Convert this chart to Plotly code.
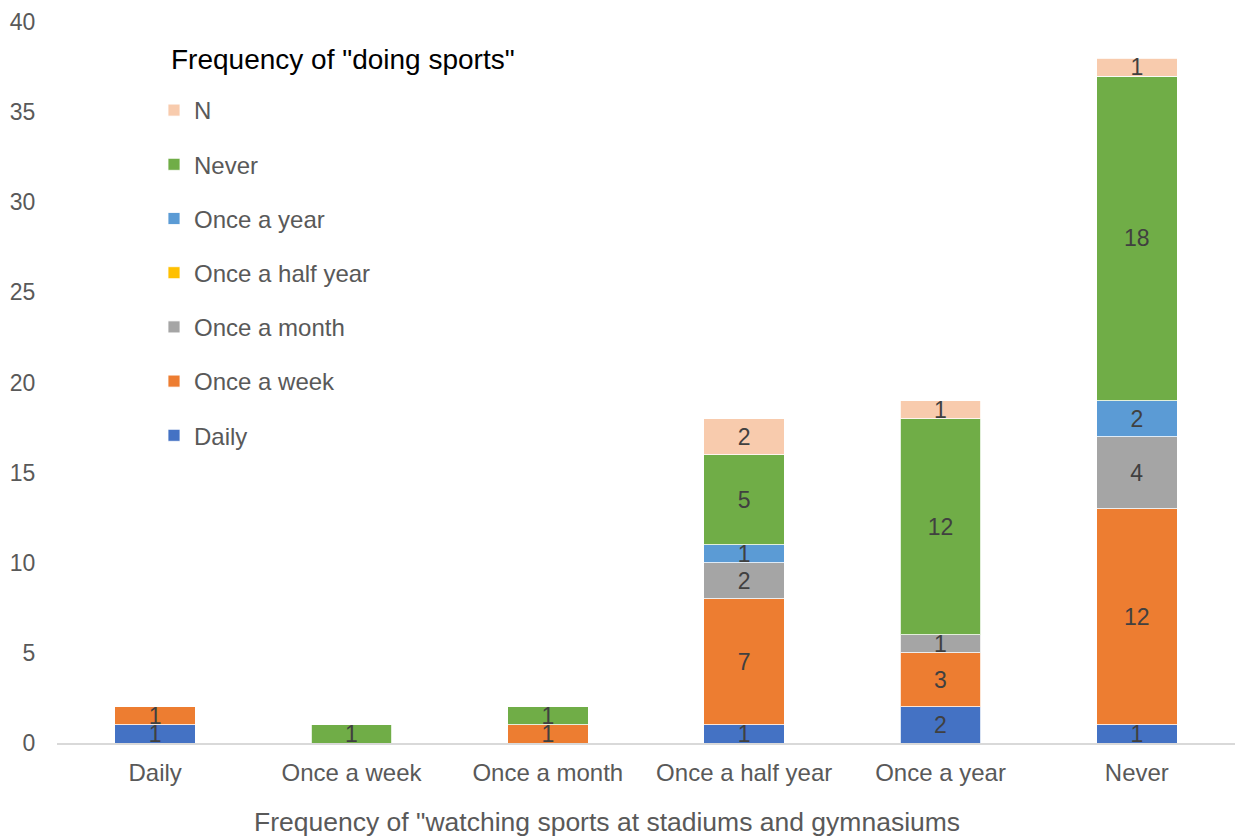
import plotly.graph_objects as go

# Categories on the x axis: how often respondents watch sports at venues
watching = ["Daily", "Once a week", "Once a month", "Once a half year", "Once a year", "Never"]

# Stacked series: how often respondents do sports (counts per watching category)
daily          = [1, 0, 0, 1, 2, 1]
once_week      = [1, 0, 1, 7, 3, 12]
once_month     = [0, 0, 0, 2, 1, 4]
once_half_year = [0, 0, 0, 0, 0, 0]
once_year      = [0, 0, 0, 1, 0, 2]
never          = [0, 1, 1, 5, 12, 18]
no_answer      = [0, 0, 0, 2, 1, 1]

series = [
    ("Daily", daily, "#4472C4"),
    ("Once a week", once_week, "#ED7D31"),
    ("Once a month", once_month, "#A5A5A5"),
    ("Once a half year", once_half_year, "#FFC000"),
    ("Once a year", once_year, "#5B9BD5"),
    ("Never", never, "#70AD47"),
    ("N", no_answer, "#F8CBAD"),
]

FONT = "Liberation Sans, Arial, sans-serif"
GREY_TEXT = "#595959"

PLOT_L, PLOT_R, PLOT_T, PLOT_B = 57, 1235, 22, 743
PW, PH = PLOT_R - PLOT_L, PLOT_B - PLOT_T

fig = go.Figure()
for i, (name, vals, color) in enumerate(series):
    fig.add_trace(go.Bar(
        x=watching,
        y=[v if v else None for v in vals],
        name=name,
        legendgroup=name,
        legendrank=len(series) - i,  # top of the stack listed first
        marker=dict(color=color, line=dict(color="rgba(255,255,255,0.8)", width=1)),
        text=[str(v) if v else "" for v in vals],
        textposition="inside",
        insidetextanchor="middle",
        textangle=0,
        textfont=dict(family=FONT, size=23, color="#404040"),
        hoverinfo="x+y+name",
    ))

fig.update_layout(
    barmode="stack",
    bargap=0.59,
    width=1235,
    height=838,
    margin=dict(l=PLOT_L, r=1235 - PLOT_R, t=PLOT_T, b=838 - PLOT_B),
    paper_bgcolor="white",
    plot_bgcolor="white",
    font=dict(family=FONT, size=23, color=GREY_TEXT),
    uniformtext=dict(minsize=23, mode="show"),
    showlegend=True,
    legend=dict(
        traceorder="grouped",
        tracegroupgap=20,
        x=(154 - PLOT_L) / PW,
        xanchor="left",
        y=1 - (88 - PLOT_T) / PH,
        yanchor="top",
        bgcolor="rgba(0,0,0,0)",
        font=dict(family=FONT, size=24, color=GREY_TEXT),
        itemclick=False,
    ),
    xaxis=dict(
        showgrid=False,
        showline=True,
        linecolor="#D9D9D9",
        linewidth=2,
        ticks="outside",
        ticklen=7,
        tickcolor="rgba(0,0,0,0)",
        tickfont=dict(family=FONT, size=24, color=GREY_TEXT),
    ),
    yaxis=dict(
        range=[0, 40],
        dtick=5,
        showgrid=False,
        zeroline=False,
        showline=False,
        ticks="outside",
        ticklen=16,
        tickcolor="rgba(0,0,0,0)",
        tickfont=dict(family=FONT, size=23, color=GREY_TEXT),
    ),
    annotations=[
        # legend heading
        dict(
            text='Frequency of "doing sports"',
            xref="paper", yref="paper",
            x=(169 - PLOT_L) / PW, y=1 - (60 - PLOT_T) / PH,
            xanchor="left", yanchor="middle",
            showarrow=False,
            font=dict(family=FONT, size=28, color="#000000"),
        ),
        # x-axis title
        dict(
            text='Frequency of "watching sports at stadiums and gymnasiums',
            xref="paper", yref="paper",
            x=(607 - PLOT_L) / PW, y=-(822 - PLOT_B) / PH,
            xanchor="center", yanchor="middle",
            showarrow=False,
            font=dict(family=FONT, size=26.5, color=GREY_TEXT),
        ),
    ],
)

fig.write_html("out.html")
